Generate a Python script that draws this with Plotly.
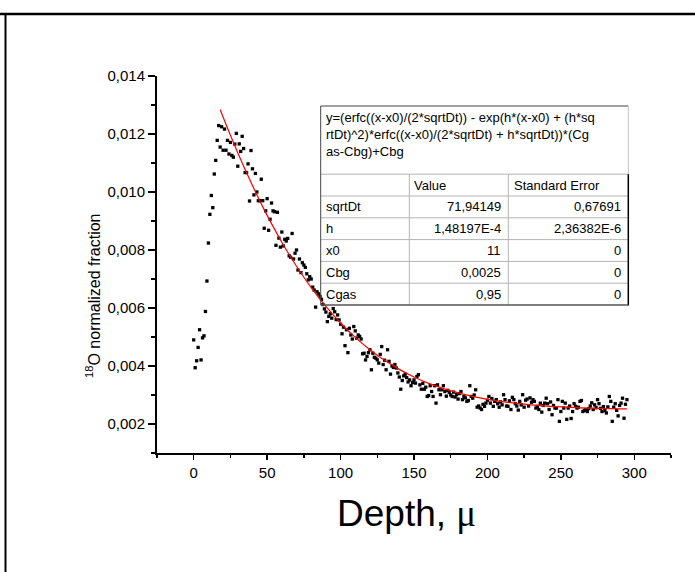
import plotly.graph_objects as go

# ---------------- data ----------------
depth = [
    0, 1, 2, 3, 4, 5, 6, 7, 8, 9, 10, 11, 12, 13, 14, 15, 16, 17, 18, 19,
    20, 21, 22, 23, 24, 25, 26, 27, 28, 29, 30, 31, 32, 33, 34, 35, 36, 37, 38, 39,
    40, 41, 42, 43, 44, 45, 46, 47, 48, 49, 50, 51, 52, 53, 54, 55, 56, 57, 58, 59,
    60, 61, 62, 63, 64, 65, 66, 67, 68, 69, 70, 71, 72, 73, 74, 75, 76, 77, 78, 79,
    80, 81, 82, 83, 84, 85, 86, 87, 88, 89, 90, 91, 92, 93, 94, 95, 96, 97, 98, 99,
    100, 101, 102, 103, 104, 105, 106, 107, 108, 109, 110, 111, 112, 113, 114, 115, 116, 117, 118, 119,
    120, 121, 122, 123, 124, 125, 126, 127, 128, 129, 130, 131, 132, 133, 134, 135, 136, 137, 138, 139,
    140, 141, 142, 143, 144, 145, 146, 147, 148, 149, 150, 151, 152, 153, 154, 155, 156, 157, 158, 159,
    160, 161, 162, 163, 164, 165, 166, 167, 168, 169, 170, 171, 172, 173, 174, 175, 176, 177, 178, 179,
    180, 181, 182, 183, 184, 185, 186, 187, 188, 189, 190, 191, 192, 193, 194, 195, 196, 197, 198, 199,
    200, 201, 202, 203, 204, 205, 206, 207, 208, 209, 210, 211, 212, 213, 214, 215, 216, 217, 218, 219,
    220, 221, 222, 223, 224, 225, 226, 227, 228, 229, 230, 231, 232, 233, 234, 235, 236, 237, 238, 239,
    240, 241, 242, 243, 244, 245, 246, 247, 248, 249, 250, 251, 252, 253, 254, 255, 256, 257, 258, 259,
    260, 261, 262, 263, 264, 265, 266, 267, 268, 269, 270, 271, 272, 273, 274, 275, 276, 277, 278, 279,
    280, 281, 282, 283, 284, 285, 286, 287, 288, 289, 290, 291, 292, 293, 294, 295,
]

fraction = [
    0.00490, 0.00394, 0.00418, 0.00464, 0.00525, 0.00421, 0.00497, 0.00504, 0.00588, 0.00693,
    0.00824, 0.00923, 0.00988, 0.00946, 0.01062, 0.01109, 0.01178, 0.01229, 0.01155, 0.01225,
    0.01144, 0.01217, 0.01144, 0.01178, 0.01131, 0.01171, 0.01126, 0.01120, 0.01165, 0.01202,
    0.01089, 0.01166, 0.01140, 0.01192, 0.01150, 0.01067, 0.01067, 0.01097, 0.00969, 0.01143,
    0.01080, 0.00990, 0.01064, 0.01000, 0.00970, 0.00970, 0.01044, 0.00970, 0.00875, 0.00935,
    0.00977, 0.00868, 0.00906, 0.00962, 0.00935, 0.00932, 0.00816, 0.00930, 0.00841, 0.00810,
    0.00862, 0.00814, 0.00837, 0.00831, 0.00840, 0.00780, 0.00775, 0.00857, 0.00769, 0.00789,
    0.00800, 0.00731, 0.00769, 0.00722, 0.00756, 0.00748, 0.00740, 0.00718, 0.00697, 0.00708,
    0.00700, 0.00672, 0.00662, 0.00603, 0.00656, 0.00649, 0.00640, 0.00630, 0.00612, 0.00597,
    0.00586, 0.00553, 0.00571, 0.00580, 0.00565, 0.00598, 0.00587, 0.00560, 0.00576, 0.00559,
    0.00544, 0.00511, 0.00534, 0.00470, 0.00525, 0.00446, 0.00530, 0.00507, 0.00493, 0.00536,
    0.00521, 0.00496, 0.00507, 0.00502, 0.00493, 0.00442, 0.00444, 0.00421, 0.00433, 0.00446,
    0.00456, 0.00387, 0.00444, 0.00430, 0.00427, 0.00421, 0.00410, 0.00440, 0.00467, 0.00405,
    0.00420, 0.00387, 0.00456, 0.00416, 0.00372, 0.00400, 0.00395, 0.00405, 0.00393, 0.00376,
    0.00362, 0.00320, 0.00350, 0.00366, 0.00372, 0.00360, 0.00345, 0.00352, 0.00332, 0.00343,
    0.00352, 0.00341, 0.00364, 0.00370, 0.00335, 0.00320, 0.00340, 0.00320, 0.00327, 0.00295,
    0.00298, 0.00332, 0.00312, 0.00295, 0.00332, 0.00272, 0.00335, 0.00318, 0.00301, 0.00318,
    0.00332, 0.00312, 0.00296, 0.00316, 0.00309, 0.00300, 0.00295, 0.00310, 0.00293, 0.00301,
    0.00286, 0.00305, 0.00312, 0.00284, 0.00295, 0.00290, 0.00278, 0.00281, 0.00332, 0.00295,
    0.00289, 0.00300, 0.00318, 0.00258, 0.00262, 0.00255, 0.00250, 0.00268, 0.00261, 0.00272,
    0.00282, 0.00295, 0.00272, 0.00288, 0.00261, 0.00278, 0.00284, 0.00270, 0.00258, 0.00276,
    0.00266, 0.00301, 0.00284, 0.00262, 0.00261, 0.00280, 0.00250, 0.00292, 0.00284, 0.00270,
    0.00262, 0.00248, 0.00278, 0.00266, 0.00301, 0.00258, 0.00282, 0.00286, 0.00262, 0.00290,
    0.00275, 0.00284, 0.00278, 0.00255, 0.00261, 0.00250, 0.00272, 0.00241, 0.00264, 0.00272,
    0.00289, 0.00270, 0.00250, 0.00276, 0.00232, 0.00264, 0.00255, 0.00255, 0.00284, 0.00209,
    0.00243, 0.00278, 0.00255, 0.00272, 0.00216, 0.00255, 0.00262, 0.00219, 0.00243, 0.00270,
    0.00261, 0.00255, 0.00258, 0.00278, 0.00281, 0.00243, 0.00247, 0.00250, 0.00243, 0.00253,
    0.00262, 0.00273, 0.00250, 0.00266, 0.00256, 0.00284, 0.00270, 0.00254, 0.00243, 0.00260,
    0.00246, 0.00238, 0.00259, 0.00295, 0.00278, 0.00209, 0.00258, 0.00270, 0.00247, 0.00228,
    0.00264, 0.00272, 0.00289, 0.00220, 0.00268, 0.00284,
]

fit_depth = [18, 20, 25, 30, 35, 40, 45, 50, 60, 70, 80, 90, 100, 110, 120,
             130, 140, 150, 160, 180, 200, 230, 260, 295]
fit_value = [0.012847, 0.012587, 0.011955, 0.011350, 0.010772, 0.010220, 0.009694,
             0.009194, 0.008269, 0.007440, 0.006703, 0.006053, 0.005483, 0.004988,
             0.004561, 0.004194, 0.003884, 0.003621, 0.003402, 0.003071, 0.002851,
             0.002659, 0.002567, 0.002522]

x_ticks = [0, 50, 100, 150, 200, 250, 300]
y_ticks = [0.002, 0.004, 0.006, 0.008, 0.010, 0.012, 0.014]

formula_lines = [
    "y=(erfc((x-x0)/(2*sqrtDt)) - exp(h*(x-x0) + (h*sq",
    "rtDt)^2)*erfc((x-x0)/(2*sqrtDt) + h*sqrtDt))*(Cg",
    "as-Cbg)+Cbg",
]
table_header = ["Value", "Standard Error"]
param_names = ["sqrtDt", "h", "x0", "Cbg", "Cgas"]
param_values = ["71,94149", "1,48197E-4", "11", "0,0025", "0,95"]
param_errors = ["0,67691", "2,36382E-6", "0", "0", "0"]

# ---------------- layout helpers ----------------
W, H = 695, 572
L, R, T, B = 157, 24, 76, 119
PW, PH = W - L - R, H - T - B


def xp(px):
    return (px - L) / PW


def yp(py):
    return (H - B - py) / PH


FONT = "Arial, Liberation Sans, sans-serif"

fig = go.Figure()
fig.add_trace(go.Scatter(
    x=depth, y=fraction, mode="markers",
    marker=dict(symbol="square", size=3.3, color="black", line=dict(width=0)),
    showlegend=False, hoverinfo="skip"))
fig.add_trace(go.Scatter(
    x=fit_depth, y=fit_value, mode="lines",
    line=dict(color="#ff0000", width=1.2, shape="spline"),
    showlegend=False, hoverinfo="skip"))

shapes = []


def hline(py, x0, x1, color, width):
    shapes.append(dict(type="line", xref="paper", yref="paper",
                       x0=xp(x0), x1=xp(x1), y0=yp(py), y1=yp(py),
                       line=dict(color=color, width=width)))


def vline(px, y0, y1, color, width):
    shapes.append(dict(type="line", xref="paper", yref="paper",
                       x0=xp(px), x1=xp(px), y0=yp(y0), y1=yp(y1),
                       line=dict(color=color, width=width)))


# page frame
hline(14, 0, W, "black", 2.5)
vline(5.5, 13, H + 5, "black", 2)

# table geometry
tl, tr, ttop, tbot = 320.7, 628.3, 106, 305
hdr = 174.2
rowh = (tbot - hdr) / 6
c1, c2 = 409.3, 508.3
for i in range(1, 6):
    hline(hdr + i * rowh, tl, tr, "#b4b4b4", 1)
hline(hdr, tl, tr, "#b4b4b4", 1)
vline(c1, hdr, tbot, "#b4b4b4", 1)
vline(c2, hdr, tbot, "#b4b4b4", 1)
hline(ttop, tl, tr, "#444444", 1)
vline(tl, ttop, tbot, "#444444", 1)
vline(tr, ttop, hdr, "#c4c4c4", 1)
vline(tr, hdr, tbot + 0.5, "black", 1.5)
hline(tbot, tl, tr, "#555555", 1.5)

annotations = []
tfont = dict(family=FONT, size=13, color="black")
annotations.append(dict(xref="paper", yref="paper", x=xp(tl + 3), y=yp(ttop + 2),
                        xanchor="left", yanchor="top", align="left", showarrow=False,
                        text="<br>".join(formula_lines), font=tfont))
hy = hdr + rowh / 2
annotations.append(dict(xref="paper", yref="paper", x=xp(c1 + 3), y=yp(hy),
                        xanchor="left", yanchor="middle", showarrow=False,
                        text=table_header[0], font=tfont))
annotations.append(dict(xref="paper", yref="paper", x=xp(c2 + 4), y=yp(hy),
                        xanchor="left", yanchor="middle", showarrow=False,
                        text=table_header[1], font=tfont))
for i, (n, v, e) in enumerate(zip(param_names, param_values, param_errors)):
    cy = hdr + (i + 1.5) * rowh
    annotations.append(dict(xref="paper", yref="paper", x=xp(tl + 3), y=yp(cy),
                            xanchor="left", yanchor="middle", showarrow=False,
                            text=n, font=tfont))
    annotations.append(dict(xref="paper", yref="paper", x=xp(c2 - 5), y=yp(cy),
                            xanchor="right", yanchor="middle", showarrow=False,
                            text=v, font=tfont))
    annotations.append(dict(xref="paper", yref="paper", x=xp(tr - 5), y=yp(cy),
                            xanchor="right", yanchor="middle", showarrow=False,
                            text=e, font=tfont))

# axis titles
annotations.append(dict(xref="paper", yref="paper", x=xp(93), y=yp(296),
                        xanchor="center", yanchor="middle", textangle=-90, showarrow=False,
                        text="<sup>18</sup>O normalized fraction",
                        font=dict(family=FONT, size=16, color="black")))
annotations.append(dict(xref="paper", yref="paper", x=xp(406), y=yp(513),
                        xanchor="center", yanchor="middle", showarrow=False,
                        text="Depth, <span style='font-family:Liberation Serif, Times New Roman, serif'>μ</span>",
                        font=dict(family=FONT, size=37, color="black")))

fig.update_layout(
    width=W, height=H, autosize=False,
    margin=dict(l=L, r=R, t=T, b=B, pad=0),
    paper_bgcolor="white", plot_bgcolor="white",
    separators=",.",
    font=dict(family=FONT, size=15, color="black"),
    shapes=shapes, annotations=annotations,
    xaxis=dict(range=[-25, 325], tickmode="array", tickvals=x_ticks,
               ticktext=[str(v) for v in x_ticks],
               showgrid=False, zeroline=False, showline=True, linecolor="black",
               linewidth=2, ticks="outside", ticklen=5, tickwidth=1.5, tickcolor="black",
               minor=dict(dtick=25, tick0=-25, ticks="outside", ticklen=3, tickwidth=1.5,
                          tickcolor="black", showgrid=False),
               tickfont=dict(family=FONT, size=15)),
    yaxis=dict(range=[0.001, 0.014], tickmode="array", tickvals=y_ticks,
               tickformat=".3f",
               showgrid=False, zeroline=False, showline=True, linecolor="black",
               linewidth=2, ticks="outside", ticklen=7, tickwidth=1.5, tickcolor="black",
               minor=dict(dtick=0.001, tick0=0.001, ticks="outside", ticklen=4, tickwidth=1.5,
                          tickcolor="black", showgrid=False),
               tickfont=dict(family=FONT, size=15)),
)

fig.write_html("out.html",
               config={"displayModeBar": False, "staticPlot": True},
               post_script="document.body.style.margin='0';document.body.style.padding='0';document.body.style.overflow='hidden';")
